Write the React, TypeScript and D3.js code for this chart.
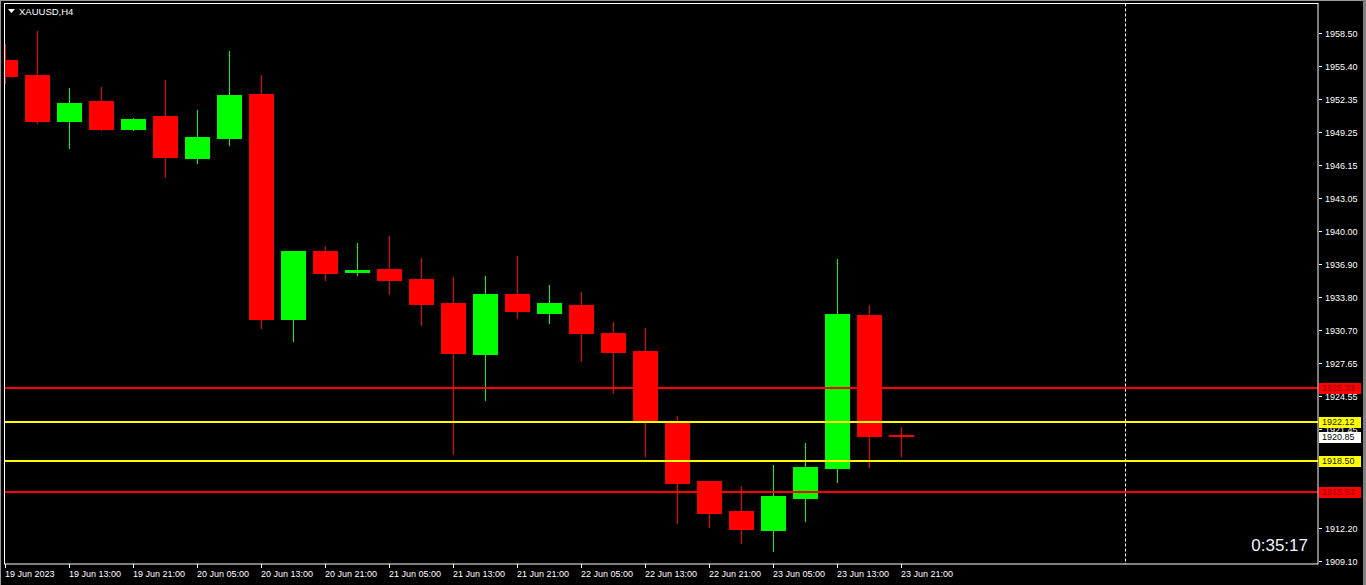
import React from "react";
import * as d3 from "d3";

// ---- DATA (XAUUSD, H4) ----
const barIndex = [0,1,2,3,4,5,6,7,8,9,10,11,12,13,14,15,16,17,18,19,20,21,22,23,24,25,26,27,28];
const opens  = [1955.97,1954.57,1950.29,1952.14,1949.55,1950.73,1946.83,1948.70,1952.79,1931.77,1938.10,1936.17,1936.42,1935.48,1933.24,1928.49,1934.08,1932.33,1933.05,1930.43,1928.75,1922.20,1916.58,1913.78,1912.03,1915.02,1917.83,1932.12,1920.92];
const highs  = [1957.47,1958.69,1953.35,1953.45,1950.55,1954.10,1951.30,1956.82,1954.57,1938.10,1938.57,1938.85,1939.51,1937.45,1935.67,1935.76,1937.64,1934.92,1934.27,1931.46,1930.90,1922.67,1916.58,1916.12,1918.08,1920.14,1937.36,1933.05,1921.64];
const lows   = [1953.85,1950.11,1947.77,1949.45,1949.45,1945.05,1946.37,1948.05,1930.93,1929.71,1935.42,1935.89,1934.11,1931.21,1919.14,1924.19,1931.86,1931.39,1927.84,1924.85,1918.95,1912.68,1912.31,1910.81,1910.06,1912.87,1916.52,1917.92,1918.95];
const closes = [1954.50,1950.29,1951.95,1949.55,1950.45,1946.93,1948.77,1952.70,1931.77,1938.10,1936.07,1936.33,1935.42,1933.17,1928.59,1934.08,1932.52,1933.24,1930.46,1928.68,1922.13,1916.42,1913.62,1912.12,1915.18,1917.89,1932.21,1920.82,1920.85];

const timeTickIndex = [0,2,4,6,8,10,12,14,16,18,20,22,24,26,28];
const timeTickLabels = ["19 Jun 2023","19 Jun 13:00","19 Jun 21:00","20 Jun 05:00","20 Jun 13:00","20 Jun 21:00","21 Jun 05:00","21 Jun 13:00","21 Jun 21:00","22 Jun 05:00","22 Jun 13:00","22 Jun 21:00","23 Jun 05:00","23 Jun 13:00","23 Jun 21:00"];

const priceTickValues = [1958.5,1955.41,1952.33,1949.24,1946.15,1943.06,1939.98,1936.89,1933.8,1930.71,1927.63,1924.54,1921.45,1918.36,1915.28,1912.18,1909.09];
// labels hidden behind level boxes in the reference are left empty
const priceTickLabels = ["1958.50","1955.40","1952.35","1949.25","1946.15","1943.05","1940.00","1936.90","1933.80","1930.70","1927.65","1924.55","1921.45","","","1912.20","1909.10"];

const levelValues = [1925.33, 1922.12, 1918.50, 1915.53];
const levelLabels = ["1925.33", "1922.12", "1918.50", "1915.53"];
const levelColors = ["#ff0000", "#ffff00", "#ffff00", "#ff0000"];
const levelTextColors = ["#8b0000", "#202000", "#202000", "#8b0000"];

const currentPrice = 1920.85;
const currentLabel = "1920.85";
const symbolTitle = "XAUUSD,H4";
const countdown = "0:35:17";
const vLineIndex = 35;

export default function App() {
  const W = 1366, H = 585;
  const fL = 4.5, fR = 1318, fT = 3.5, fB = 564;
  const x = d3.scaleLinear().domain([0, 41]).range([5, 1317]);
  const y = d3.scaleLinear().domain([1909.0875, 1958.5]).range([561.3, 33.3]);
  const font = "'Liberation Sans', Arial, sans-serif";

  const candles = barIndex.map((i) => {
    const o = opens[i], c = closes[i], h = highs[i], l = lows[i];
    const cx = Math.round(x(i));
    const up = c > o;
    const col = up ? "#00ff00" : "#ff0000";
    const top = Math.round(y(Math.max(o, c)));
    const bot = Math.round(y(Math.min(o, c)));
    const hy = Math.round(y(h));
    const ly = Math.round(y(l));
    return (
      <g key={i}>
        <rect x={cx} y={hy} width={1} height={ly - hy + 1} fill={col} />
        <rect x={cx - 12} y={top} width={25} height={Math.max(bot - top + 1, 2)} fill={col} />
      </g>
    );
  });

  return (
    <svg width={W} height={H} style={{ position: "fixed", left: 0, top: 0, background: "#000" }} fontFamily={font}>
      <defs>
        <clipPath id="plot">
          <rect x={5} y={4} width={fR - 5} height={fB - 4} />
        </clipPath>
      </defs>
      <rect x={0} y={0} width={W} height={H} fill="#000" />
      {/* window edges */}
      <rect x={0} y={0} width={1} height={H} fill="#9a9a9a" />
      <rect x={0} y={0} width={W} height={1} fill="#9a9a9a" />
      <rect x={W - 3} y={0} width={3} height={H} fill="#808080" />

      <g clipPath="url(#plot)">
        {/* vertical dashed line */}
        <line x1={Math.round(x(vLineIndex)) + 0.5} x2={Math.round(x(vLineIndex)) + 0.5} y1={fT} y2={fB} stroke="#fff" strokeWidth={1} strokeDasharray="3,2" />
        {candles}
        {levelValues.map((v, k) => (
          <rect key={k} x={5} y={Math.round(y(v)) - 1} width={fR - 5} height={2} fill={levelColors[k]} />
        ))}
      </g>

      {/* frame */}
      <rect x={fL} y={fT} width={fR - fL} height={fB - fT} fill="none" stroke="#fff" strokeWidth={1} />

      {/* title */}
      <path d="M8,9 L15,9 L11.5,13 Z" fill="#fff" />
      <text x={19} y={15} fill="#fff" fontSize={9.5}>{symbolTitle}</text>

      {/* price axis */}
      {priceTickValues.map((v, k) => {
        const ty = Math.round(y(v)) + 0.5;
        return (
          <g key={k}>
            <line x1={fR + 1} x2={fR + 4} y1={ty} y2={ty} stroke="#fff" />
            {priceTickLabels[k] && (
              <text x={1325} y={ty} dy="0.35em" fill="#fff" fontSize={9}>{priceTickLabels[k]}</text>
            )}
          </g>
        );
      })}

      {/* level labels */}
      {levelValues.map((v, k) => {
        const ty = Math.round(y(v));
        return (
          <g key={k}>
            <rect x={1319} y={ty - 5} width={42} height={11} fill={levelColors[k]} />
            <text x={1322} y={ty} dy="0.37em" fill={levelTextColors[k]} fontSize={9}>{levelLabels[k]}</text>
          </g>
        );
      })}
      {(() => {
        const ty = Math.round(y(currentPrice)) + 1;
        return (
          <g>
            <rect x={1319} y={ty - 5} width={42} height={11} fill="#fff" />
            <text x={1322} y={ty} dy="0.37em" fill="#000" fontSize={9}>{currentLabel}</text>
          </g>
        );
      })()}

      {/* time axis */}
      {timeTickIndex.map((i, k) => {
        const tx = Math.round(x(i)) + 0.5;
        return (
          <g key={k}>
            <line x1={tx} x2={tx} y1={fB} y2={fB + 4} stroke="#fff" />
            <text x={tx - 0.5} y={577} fill="#fff" fontSize={9}>{timeTickLabels[k]}</text>
          </g>
        );
      })}

      {/* countdown */}
      <text x={1308} y={551} textAnchor="end" fill="#f0f4ff" fontSize={17}>{countdown}</text>
    </svg>
  );
}
